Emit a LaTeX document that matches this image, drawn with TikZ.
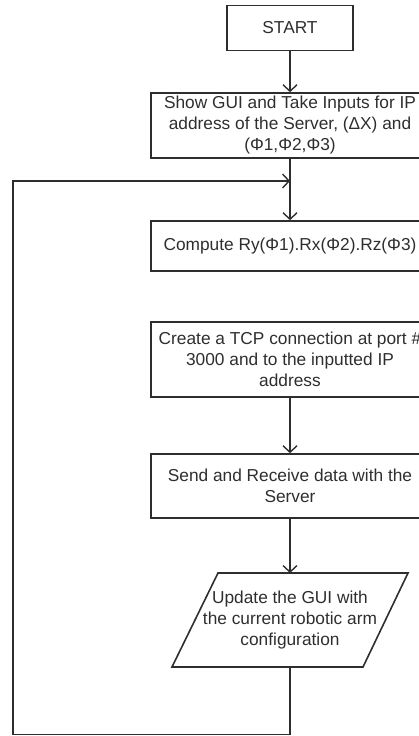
\documentclass[tikz,border=0pt]{standalone}
\usepackage{fontspec}
\setmainfont{Liberation Sans}
\usetikzlibrary{arrows.meta}
\definecolor{ink}{HTML}{2E2E2E}
\begin{document}
\begin{tikzpicture}[x=1pt,y=-1pt,
  every node/.style={font=\fontsize{17.3}{21}\selectfont, text=ink},
  box/.style={draw=ink, line width=1.6pt, minimum width=278pt, align=center, inner sep=0pt},
  flow/.style={draw=ink, line width=1.6pt, -{Straight Barb[length=6.5pt,width=14pt,line width=1.4pt]}},
  plain/.style={draw=ink, line width=1.6pt}]
\useasboundingbox (0,0) rectangle (419,736);
\clip (0,0) rectangle (419,736);
\node[box, minimum width=126pt, minimum height=45pt] (start) at (290,28) {START};
\node[box, minimum height=65pt] (gui) at (290,125.5) {Show GUI and Take Inputs for IP\\address of the Server, (ΔX) and\\(Φ1,Φ2,Φ3)};
\node[box, minimum height=50pt] (comp) at (290,246) {Compute Ry(Φ1).Rx(Φ2).Rz(Φ3)};
\node[box, minimum height=75pt] (tcp) at (290,359.5) {Create a TCP connection at port \#\\3000 and to the inputted IP\\address};
\node[box, minimum height=64pt] (send) at (290,486) {Send and Receive data with the\\Server};
\node[align=center, inner sep=0pt] (upd) at (290,620) {Update the GUI with\\the current robotic arm\\configuration};
\draw[plain] (172,667) -- (218,573) -- (408,573) -- (363,667) -- cycle;
\coordinate (updtop) at (290,573);
\coordinate (updbot) at (290,667);
\coordinate (join) at (290,181);
\coordinate (c1) at (290,734.5);
\coordinate (c2) at (13,734.5);
\coordinate (c3) at (13,181);
\draw[flow] (start.south) -- (gui.north);
\draw[flow] (gui.south) -- (comp.north);
\draw[flow] (tcp.south) -- (send.north);
\draw[flow] (send.south) -- (updtop);
\draw[flow] (updbot) -- (c1) -- (c2) -- (c3) -- (join);
\end{tikzpicture}
\end{document}
